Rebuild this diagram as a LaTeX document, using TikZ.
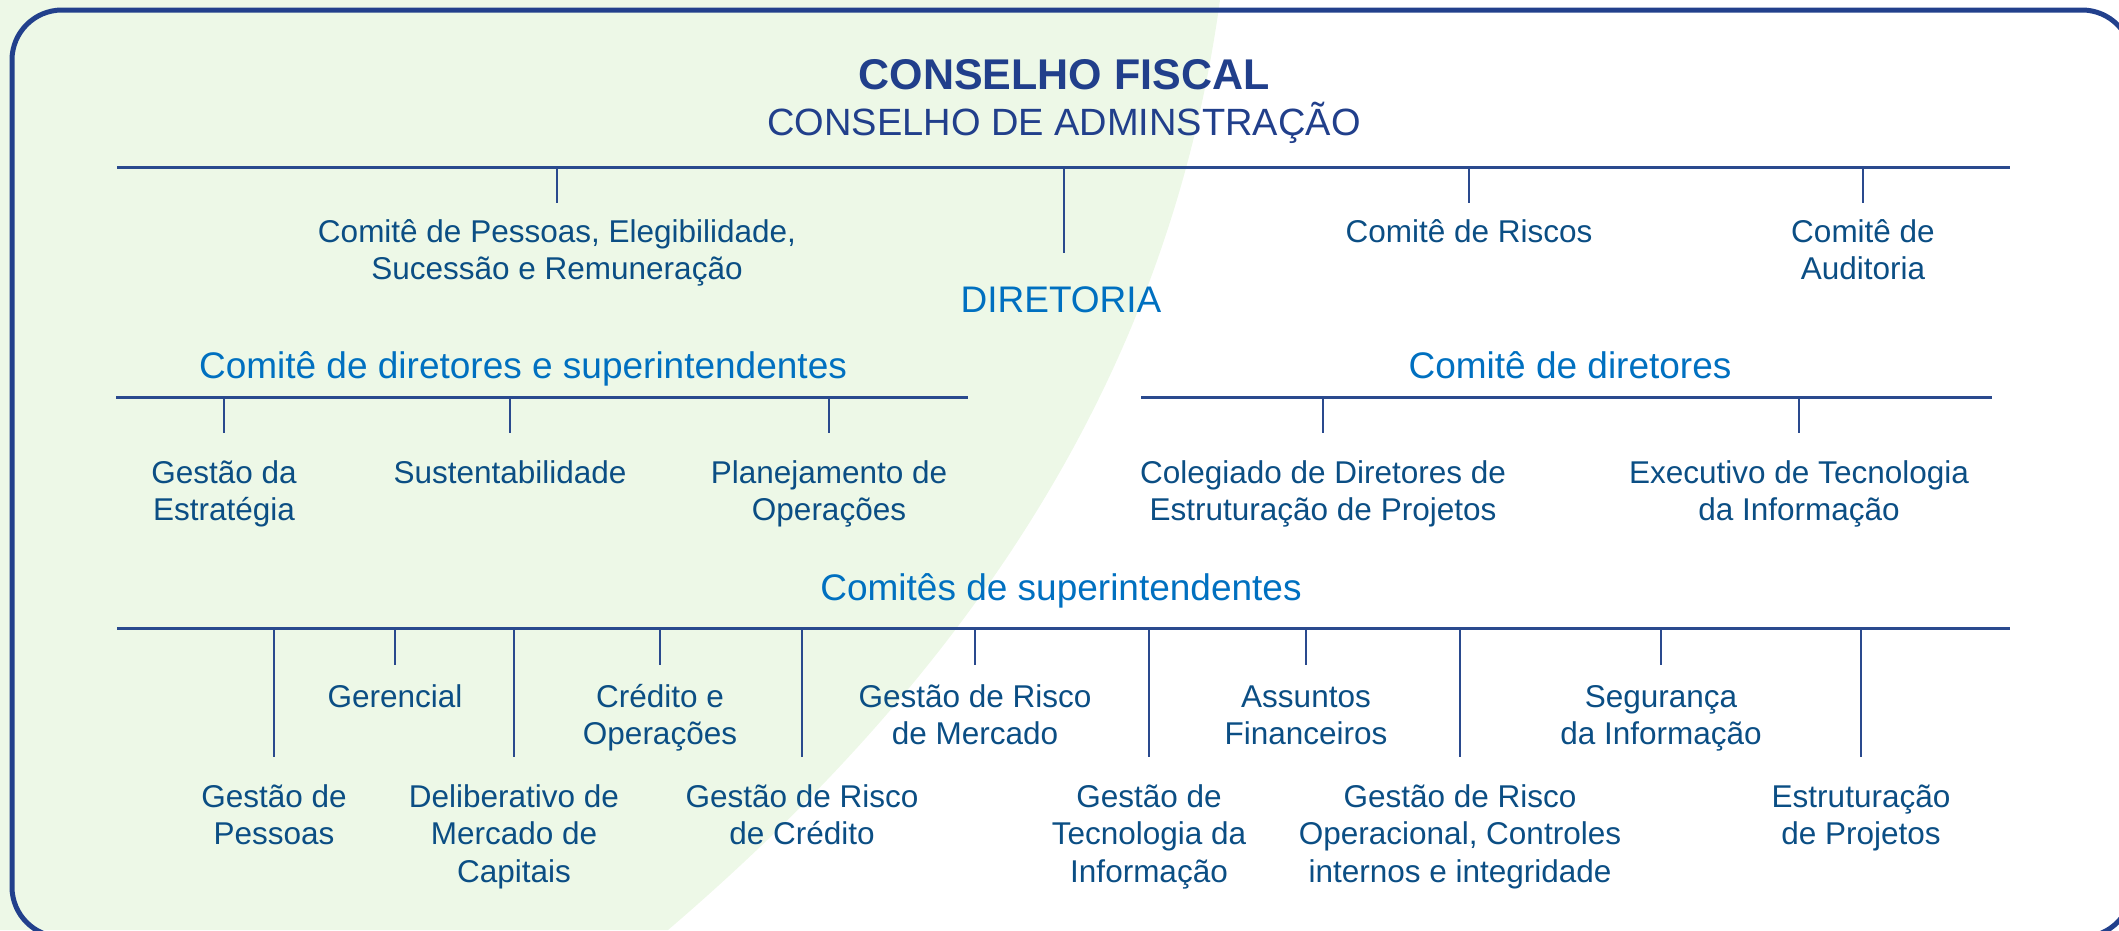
\documentclass[tikz,border=0pt]{standalone}
\usepackage{fontspec}
\setmainfont{Liberation Sans}
\definecolor{framec}{HTML}{22408C}
\definecolor{linec}{HTML}{2A4A8E}
\definecolor{titlec}{HTML}{213F8B}
\definecolor{lblc}{HTML}{0B4E84}
\definecolor{headc}{HTML}{0070C0}
\definecolor{bgg}{HTML}{EDF8E7}
\newcommand{\stk}[1]{\begin{tabular}[t]{@{}c@{}}#1\end{tabular}}
\tikzset{
  lbl/.style={font=\fontsize{31.5}{37.5}\selectfont, text=lblc, inner sep=0pt, anchor=base},
  headtxt/.style={font=\fontsize{37}{44}\selectfont, text=headc, inner sep=0pt, anchor=base},
  hline/.style={draw=linec, line width=3pt},
  tickline/.style={draw=linec, line width=2pt},
  frameline/.style={draw=framec, line width=5pt, rounded corners=50pt},
}
\begin{document}
\begin{tikzpicture}[x=1pt,y=-1pt]
\useasboundingbox (0,0) rectangle (2119,930);
\clip (0,0) rectangle (2119,930);
% background
\fill[bgg] (0,0) -- (1220,0) .. controls (1172,350) and (995,650) .. (668,930) -- (0,930) -- cycle;
\draw[frameline] (12,10) rectangle (2132,937);

% titles
\node[font=\fontsize{43}{50}\selectfont\bfseries, text=titlec, inner sep=0pt, anchor=base] (fiscal) at (1064,89) {CONSELHO FISCAL};
\node[font=\fontsize{38}{44}\selectfont, text=titlec, inner sep=0pt, anchor=base] (admin) at (1064,135) {CONSELHO DE ADMINSTRAÇÃO};

% level 1
\coordinate (L1a) at (117,167);
\coordinate (L1b) at (2010,167);
\draw[hline] (L1a) -- (L1b);
\node[lbl] (pessoas) at (557,242) {\stk{Comitê de Pessoas, Elegibilidade,\\Sucessão e Remuneração}};
\node[lbl] (riscos) at (1469,242) {Comitê de Riscos};
\node[lbl] (auditoria) at (1863,242) {\stk{Comitê de\\Auditoria}};
\node[headtxt] (diretoria) at (1061,312) {DIRETORIA};
\coordinate (t1a) at (557,203);
\coordinate (t1b) at (1064,253);
\coordinate (t1c) at (1469,203);
\coordinate (t1d) at (1863,203);
\foreach \t in {t1a,t1b,t1c,t1d} \draw[tickline] (\t |- L1a) -- (\t);

% level 2 left
\node[headtxt] (cds) at (523,378) {Comitê de diretores e superintendentes};
\coordinate (L2a) at (116,397);
\coordinate (L2b) at (968,397);
\draw[hline] (L2a) -- (L2b);
\node[lbl] (estrategia) at (224,483) {\stk{Gestão da\\Estratégia}};
\node[lbl] (sustent) at (510,483) {Sustentabilidade};
\node[lbl] (planej) at (829,483) {\stk{Planejamento de\\Operações}};
\coordinate (t2a) at (224,433);
\coordinate (t2b) at (510,433);
\coordinate (t2c) at (829,433);
\foreach \t in {t2a,t2b,t2c} \draw[tickline] (\t |- L2a) -- (\t);

% level 2 right
\node[headtxt] (cd) at (1570,378) {Comitê de diretores};
\coordinate (L2c) at (1141,397);
\coordinate (L2d) at (1992,397);
\draw[hline] (L2c) -- (L2d);
\node[lbl] (colegiado) at (1323,483) {\stk{Colegiado de Diretores de\\Estruturação de Projetos}};
\node[lbl] (executivo) at (1799,483) {\stk{Executivo de Tecnologia\\da Informação}};
\coordinate (t2d) at (1323,433);
\coordinate (t2e) at (1799,433);
\foreach \t in {t2d,t2e} \draw[tickline] (\t |- L2c) -- (\t);

% level 3
\node[headtxt] (cs) at (1061,600) {Comitês de superintendentes};
\coordinate (L3a) at (117,628);
\coordinate (L3b) at (2010,628);
\draw[hline] (L3a) -- (L3b);
% upper row
\node[lbl] (gerencial) at (395,707) {Gerencial};
\node[lbl] (credito) at (660,707) {\stk{Crédito e\\Operações}};
\node[lbl] (mercado) at (975,707) {\stk{Gestão de Risco\\de Mercado}};
\node[lbl] (assuntos) at (1306,707) {\stk{Assuntos\\Financeiros}};
\node[lbl] (seguranca) at (1661,707) {\stk{Segurança\\da Informação}};
\coordinate (s1) at (395,665);
\coordinate (s2) at (660,665);
\coordinate (s3) at (975,665);
\coordinate (s4) at (1306,665);
\coordinate (s5) at (1661,665);
\foreach \t in {s1,s2,s3,s4,s5} \draw[tickline] (\t |- L3a) -- (\t);
% lower row
\node[lbl] (gpessoas) at (274,807) {\stk{Gestão de\\Pessoas}};
\node[lbl] (delib) at (514,807) {\stk{Deliberativo de\\Mercado de\\Capitais}};
\node[lbl] (rcredito) at (802,807) {\stk{Gestão de Risco\\de Crédito}};
\node[lbl] (gti) at (1149,807) {\stk{Gestão de\\Tecnologia da\\Informação}};
\node[lbl] (roper) at (1460,807) {\stk{Gestão de Risco\\Operacional, Controles\\internos e integridade}};
\node[lbl] (estrut) at (1861,807) {\stk{Estruturação\\de Projetos}};
\coordinate (g1) at (274,757);
\coordinate (g2) at (514,757);
\coordinate (g3) at (802,757);
\coordinate (g4) at (1149,757);
\coordinate (g5) at (1460,757);
\coordinate (g6) at (1861,757);
\foreach \t in {g1,g2,g3,g4,g5,g6} \draw[tickline] (\t |- L3a) -- (\t);
\end{tikzpicture}
\end{document}
